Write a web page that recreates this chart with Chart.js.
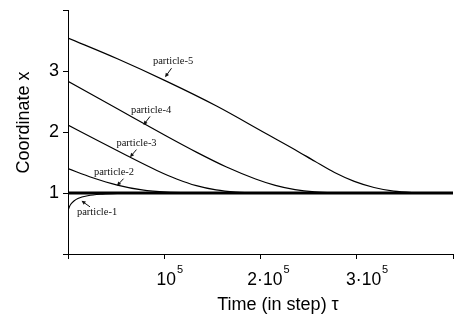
<!DOCTYPE html>
<html>
<head>
<meta charset="utf-8">
<script src="https://cdn.jsdelivr.net/npm/chart.js@4.4.1/dist/chart.umd.min.js"></script>
<style>
  html, body { margin: 0; padding: 0; background: #fff; }
  #wrap { width: 454px; height: 318px; }
</style>
</head>
<body>
<div id="wrap"><canvas id="myChart" width="454" height="318"></canvas></div>
<script>
// time in steps, coordinate x
const p1Time = [0, 1000, 3000, 6000, 10000, 20000, 35000, 50000, 70000, 90000, 390000]
const p1X    = [0.715, 0.76, 0.82, 0.87, 0.91, 0.955, 0.982, 0.994, 0.999, 1.0, 1.0]

const p2Time = [0, 25000, 50000, 75000, 100000, 125000, 150000, 390000]
const p2X    = [1.40, 1.25, 1.13, 1.05, 1.013, 1.002, 1.0, 1.0]

const p3Time = [0, 30000, 60000, 90000, 110000, 130000, 150000, 170000, 190000, 210000, 390000]
const p3X    = [2.115, 1.86, 1.61, 1.37, 1.23, 1.12, 1.05, 1.015, 1.002, 1.0, 1.0]

const p4Time = [0, 50000, 100000, 130000, 160000, 190000, 210000, 230000, 250000, 270000, 290000, 390000]
const p4X    = [2.83, 2.38, 1.93, 1.67, 1.43, 1.23, 1.125, 1.055, 1.018, 1.004, 1.0, 1.0]

const p5Time = [0, 50000, 100000, 150000, 200000, 230000, 250000, 270000, 290000, 310000, 330000, 350000, 370000, 390000]
const p5X    = [3.54, 3.20, 2.83, 2.43, 1.98, 1.71, 1.52, 1.335, 1.19, 1.09, 1.03, 1.007, 1.0, 1.0]

// the limit line x = 1
const limitTime = [0, 390000]
const limitX    = [1, 1]

// x tick labels: base text and exponent
const xTickValues = [100000, 200000, 300000]
const xTickBase   = ['10', '2·10', '3·10']
const xTickExp    = ['5', '5', '5']
const yTickLabels = { 1: '1', 2: '2', 3: '3' }

// labels: text centre, arrow tail, arrow tip (data units)
const labelNames = ['particle-1', 'particle-2', 'particle-3', 'particle-4', 'particle-5']
const labelText  = [[29400, 0.682], [46600, 1.333], [69400, 1.819], [84100, 2.362], [106400, 3.153]]
const arrowTail  = [[22300, 0.773], [56200, 1.234], [69400, 1.712], [83100, 2.255], [104900, 3.046]]
const arrowTip   = [[13700, 0.871], [49600, 1.119], [62800, 1.588], [76500, 2.115], [98300, 2.898]]

const sansFont = "'Liberation Sans', Arial, sans-serif"

let toPoints = (xs, ys) => xs.map((x, i) => ({ x: x, y: ys[i] }))

let curve = (xs, ys) => ({
    data: toPoints(xs, ys),
    borderColor: '#000',
    borderWidth: 1.2,
    pointRadius: 0,
    fill: false,
    cubicInterpolationMode: 'monotone'
})

const limitLine = {
    data: toPoints(limitTime, limitX),
    borderColor: '#000',
    borderWidth: 3,
    pointRadius: 0,
    fill: false
}

// particle labels, arrows, x tick labels with exponent, axis titles
const extrasPlugin = {
    id: 'extras',
    afterDatasetsDraw(chart) {
        const ctx = chart.ctx
        const xs = chart.scales.x
        const ys = chart.scales.y
        const area = chart.chartArea
        ctx.save()
        ctx.fillStyle = '#111'
        ctx.strokeStyle = '#111'
        ctx.font = "10.5px 'Liberation Serif', 'Times New Roman', serif"
        ctx.textAlign = 'center'
        ctx.textBaseline = 'middle'
        labelNames.forEach((name, i) => {
            ctx.fillText(name, xs.getPixelForValue(labelText[i][0]), ys.getPixelForValue(labelText[i][1]))
            let x0 = xs.getPixelForValue(arrowTail[i][0]), y0 = ys.getPixelForValue(arrowTail[i][1])
            let x1 = xs.getPixelForValue(arrowTip[i][0]), y1 = ys.getPixelForValue(arrowTip[i][1])
            let ang = Math.atan2(y1 - y0, x1 - x0)
            ctx.lineWidth = 1
            ctx.beginPath()
            ctx.moveTo(x0, y0)
            ctx.lineTo(x1 - 2 * Math.cos(ang), y1 - 2 * Math.sin(ang))
            ctx.stroke()
            ctx.beginPath()
            ctx.moveTo(x1, y1)
            ctx.lineTo(x1 - 4.5 * Math.cos(ang - 0.45), y1 - 4.5 * Math.sin(ang - 0.45))
            ctx.lineTo(x1 - 4.5 * Math.cos(ang + 0.45), y1 - 4.5 * Math.sin(ang + 0.45))
            ctx.closePath()
            ctx.fill()
        })

        // x tick labels like 2·10^5
        ctx.fillStyle = '#000'
        ctx.textBaseline = 'alphabetic'
        ctx.textAlign = 'left'
        xTickValues.forEach((v, i) => {
            ctx.font = '17.5px ' + sansFont
            let wBase = ctx.measureText(xTickBase[i]).width
            ctx.font = '11px ' + sansFont
            let wExp = ctx.measureText(xTickExp[i]).width
            let left = xs.getPixelForValue(v) + 3 - (wBase + wExp + 1) / 2
            ctx.font = '17.5px ' + sansFont
            ctx.fillText(xTickBase[i], left, area.bottom + 31)
            ctx.font = '11px ' + sansFont
            ctx.fillText(xTickExp[i], left + wBase + 1, area.bottom + 19)
        })

        ctx.textAlign = 'center'
        ctx.textBaseline = 'middle'
        ctx.font = '18px ' + sansFont
        ctx.fillText('Time (in step) τ', area.left + 210, area.bottom + 51)
        ctx.translate(24, area.top + 112.5)
        ctx.rotate(-Math.PI / 2)
        ctx.fillText('Coordinate x', 0, 0)
        ctx.restore()
    }
}

const config = {
    type: 'line',
    data: {
        datasets: [
            limitLine,
            curve(p1Time, p1X),
            curve(p2Time, p2X),
            curve(p3Time, p3X),
            curve(p4Time, p4X),
            curve(p5Time, p5X)
        ]
    },
    options: {
        responsive: false,
        animation: false,
        layout: { padding: { top: 10, right: 1, left: 0, bottom: 0 } },
        plugins: { legend: { display: false }, tooltip: { enabled: false } },
        scales: {
            x: {
                type: 'linear',
                min: 0,
                max: 390000,
                afterFit: (s) => { s.height = 64; s.paddingLeft = 0; s.paddingRight = 0 },
                border: { color: '#000', width: 1 },
                grid: { drawOnChartArea: false, color: '#000', tickLength: 5 },
                ticks: {
                    display: false,
                    stepSize: 100000,
                    includeBounds: false
                }
            },
            y: {
                min: 0,
                max: 4,
                afterFit: (s) => { s.width = 68; s.paddingTop = 0; s.paddingBottom = 0 },
                border: { color: '#000', width: 1 },
                grid: { drawOnChartArea: false, color: '#000', tickLength: 5 },
                ticks: {
                    stepSize: 1,
                    padding: 4,
                    color: '#000',
                    font: { family: sansFont, size: 18 },
                    callback: (v) => yTickLabels[v] || ''
                }
            }
        }
    },
    plugins: [extrasPlugin]
}

const myChart = new Chart(document.getElementById('myChart'), config)
</script>
</body>
</html>
